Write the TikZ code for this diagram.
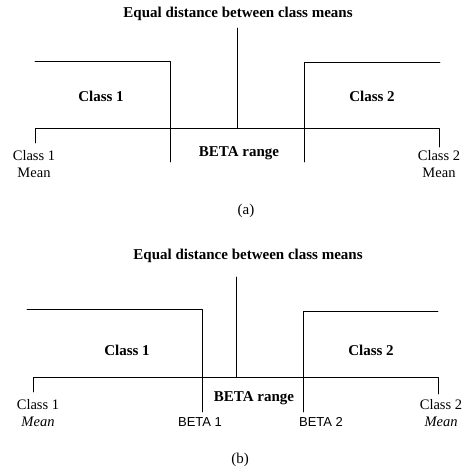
\documentclass[tikz,border=0pt]{standalone}
\usepackage{fontspec}
\setmainfont{Liberation Serif}
\newfontfamily\betafont{Liberation Sans}
\begin{document}
\begin{tikzpicture}[x=1pt,y=-1pt,line join=round,line cap=round,line width=.8pt,
  font=\fontsize{15}{17}\selectfont,
  head/.style={font=\fontsize{15}{17}\selectfont\bfseries},
  mean/.style={align=center,font=\fontsize{14.5}{17}\selectfont},
  beta/.style={font=\fontsize{13}{15}\selectfont\betafont}]
\useasboundingbox (0,0) rectangle (464,476);
% (a)
\path (237,28) coordinate (Ta) (237,128) coordinate (Ma)
(35,61) coordinate (A1) (170,61) coordinate (B1) (170,162) coordinate (C1)
(440,62) coordinate (A2) (304,62) coordinate (B2) (304,162) coordinate (C2)
(35,128) coordinate (L) (439,128) coordinate (R)
(35,143) coordinate (Lt) (439,147) coordinate (Rt);
\draw (A1)--(B1)--(C1) (A2)--(B2)--(C2);
\draw (Lt)--(L)--(R)--(Rt) (Ta)--(Ma);
\node[head] (ta) at (238,14) {Equal distance between class means};
\node[head] (c1a) at (101,96) {Class 1};
\node[head] (c2a) at (372,96) {Class 2};
\node[head] (ra) at (239,153) {BETA range};
\node[mean] (m1a) at (34,164) {Class 1\\Mean};
\node[mean] (m2a) at (439,164) {Class 2\\Mean};
\node (a) at (246,211) {(a)};
% (b)
\path (236,277) coordinate (Tb) (236,377) coordinate (Mb)
(27,309) coordinate (D1) (202,309) coordinate (E1) (202,412) coordinate (F1)
(438,311) coordinate (D2) (303,311) coordinate (E2) (303,412) coordinate (F2)
(33,377) coordinate (Lb) (438,377) coordinate (Rb)
(33,392) coordinate (Lbt) (438,394) coordinate (Rbt);
\draw (D1)--(E1)--(F1) (D2)--(E2)--(F2);
\draw (Lbt)--(Lb)--(Rb)--(Rbt) (Tb)--(Mb);
\node[head] (tb) at (248,256) {Equal distance between class means};
\node[head] (c1b) at (127,350) {Class 1};
\node[head] (c2b) at (371,350) {Class 2};
\node[head] (rb) at (254,398) {BETA range};
\node[beta] (b1) at (200,422) {BETA 1};
\node[beta] (b2) at (321,422) {BETA 2};
\node[mean] (m1b) at (38,413) {Class 1\\\textit{Mean}};
\node[mean] (m2b) at (441,413) {Class 2\\\textit{Mean}};
\node (b) at (240,460) {(b)};
\end{tikzpicture}
\end{document}
